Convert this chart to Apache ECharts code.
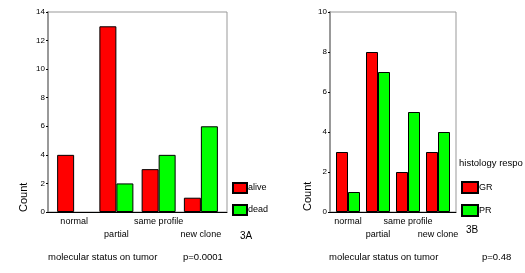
<!DOCTYPE html>
<html>
<head>
<meta charset="utf-8">
<script src="https://cdn.jsdelivr.net/npm/echarts@6/dist/echarts.min.js"></script>
<style>
	html, body { margin: 0; padding: 0; background: #fff; }
	#chart { width: 525px; height: 273px; }
</style>
</head>
<body>
<div id="chart"></div>
<script>
	// categories shared by both panels
	const categories = ['normal', 'partial', 'same profile', 'new clone']
	// panel 3A
	const aliveData = [4, 13, 3, 1]
	const deadData = [0, 2, 4, 6]
	// panel 3B
	const grData = [3, 8, 2, 3]
	const prData = [1, 7, 5, 4]

	const fontFamily = 'Liberation Sans, Arial, sans-serif'
	const red = '#ff0000'
	const green = '#00ff00'

	const myChart = echarts.init(document.getElementById('chart'), null, { renderer: 'canvas' })

	// frame axis (value y with gray line) for a panel
	const frameY = (max, grid) => ({
		type: 'value', gridIndex: grid, min: 0, max: max, interval: 2,
		axisLine: { show: true, lineStyle: { color: '#999', width: 2 } },
		axisTick: { show: true, length: 2, lineStyle: { color: '#000' } },
		axisLabel: { fontSize: 8, color: '#000', margin: 3, fontFamily: fontFamily },
		splitLine: { show: false }
	})
	const hiddenY = (max, grid) => ({
		type: 'value', gridIndex: grid, min: 0, max: max, interval: 2, show: false
	})
	const frameX = (grid) => ({
		type: 'value', gridIndex: grid, min: 0, max: 1,
		axisLine: { show: true, onZero: false, lineStyle: { color: '#000', width: 1 } },
		axisTick: { show: false }, axisLabel: { show: false }, splitLine: { show: false }
	})
	const catX = (grid) => ({
		type: 'category', gridIndex: grid, data: categories,
		axisLine: { show: false }, axisTick: { show: false },
		axisLabel: {
			interval: 0, margin: 3, fontSize: 9, lineHeight: 13, color: '#000', fontFamily: fontFamily,
			formatter: (val, idx) => idx % 2 == 1 ? '\n' + val : val
		}
	})
	const barSeries = (name, data, color, xi, yi, w) => ({
		name: name, type: 'bar', xAxisIndex: xi, yAxisIndex: yi,
		barWidth: w, barGap: 0,
		// zero-height bars get no outline
		data: data.map(v => v == 0 ? { value: v, itemStyle: { borderWidth: 0 } } : v),
		itemStyle: { color: color, borderColor: '#000', borderWidth: 1 }
	})
	const txt = (x, y, s, size, extra) => Object.assign({
		type: 'text', x: x, y: y,
		style: { text: s, fontSize: size, fill: '#000', fontFamily: fontFamily, textVerticalAlign: 'middle' }
	}, extra || {})

	const option = {
		backgroundColor: '#fff',
		animation: false,
		grid: [
			{ left: 48, top: 12, width: 179, height: 200, show: true, borderColor: '#999', borderWidth: 1 },
			{ left: 53, top: 12, width: 169, height: 200 },
			{ left: 330, top: 12, width: 126, height: 200, show: true, borderColor: '#999', borderWidth: 1 },
			{ left: 333, top: 12, width: 120, height: 200 }
		],
		xAxis: [frameX(0), catX(1), frameX(2), catX(3)],
		yAxis: [frameY(14, 0), hiddenY(14, 1), frameY(10, 2), hiddenY(10, 3)],
		legend: [
			{
				data: ['alive', 'dead'], orient: 'vertical', left: 232, top: 182, padding: 0,
				itemWidth: 14, itemHeight: 10, itemGap: 10, icon: 'rect',
				textStyle: { fontSize: 9, color: '#000', fontFamily: fontFamily, padding: [0, 0, 0, -4] }
			},
			{
				data: ['GR', 'PR'], orient: 'vertical', left: 461, top: 181, padding: 0,
				itemWidth: 16, itemHeight: 11, itemGap: 10, icon: 'rect',
				textStyle: { fontSize: 9, color: '#000', fontFamily: fontFamily, padding: [0, 0, 0, -4] }
			}
		],
		series: [
			barSeries('alive', aliveData, red, 1, 1, 17),
			barSeries('dead', deadData, green, 1, 1, 17),
			barSeries('GR', grData, red, 3, 3, 12),
			barSeries('PR', prData, green, 3, 3, 12)
		],
		graphic: [
			txt(24, 212, 'Count', 11, { rotation: Math.PI / 2 }),
			txt(308, 211, 'Count', 11, { rotation: Math.PI / 2 }),
			txt(240, 236, '3A', 10),
			txt(466, 230, '3B', 10),
			txt(48, 257, 'molecular status on tumor', 9.5),
			txt(183, 257, 'p=0.0001', 9.5),
			txt(329, 257, 'molecular status on tumor', 9.5),
			txt(482, 257, 'p=0.48', 9.5),
			txt(459, 163, 'histology respo', 9.5)
		]
	}
	myChart.setOption(option)
</script>
</body>
</html>
